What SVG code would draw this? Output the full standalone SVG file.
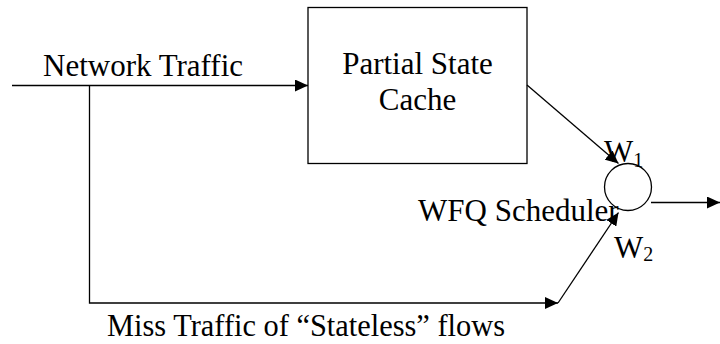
<svg xmlns="http://www.w3.org/2000/svg" width="720" height="344" viewBox="0 0 720 344">
<defs>
<style>
.ln{fill:none;stroke:#000;stroke-width:1.3}
.t{font-family:'Liberation Serif','Times New Roman',serif;font-size:31px;fill:#000}
.sub{font-size:20px}
</style>
<marker id="ah" viewBox="0 0 13 12" refX="13" refY="6" markerWidth="13" markerHeight="12" markerUnits="userSpaceOnUse" orient="auto">
<path d="M0,0 L13,6 L0,12 Z" fill="#000"/>
</marker>
</defs>
<rect width="720" height="344" fill="#fff"/>
<g id="connectors">
<line class="ln" x1="12" y1="85.5" x2="308" y2="85.5" marker-end="url(#ah)"/>
<polyline class="ln" points="89.5,85.5 89.5,303 558,303" marker-end="url(#ah)"/>
<line class="ln" x1="558" y1="303" x2="618.5" y2="212.5" marker-end="url(#ah)"/>
<line class="ln" x1="527" y1="85" x2="618.5" y2="163.5" marker-end="url(#ah)"/>
<line class="ln" x1="651" y1="202.5" x2="720" y2="202.5" marker-end="url(#ah)"/>
</g>
<g id="cache">
<rect class="ln" x="308" y="7.5" width="219" height="156"/>
<text class="t" x="417.5" y="74" text-anchor="middle">Partial State</text>
<text class="t" x="417.5" y="110" text-anchor="middle">Cache</text>
</g>
<g id="scheduler">
<circle class="ln" cx="628" cy="187" r="23.5"/>
<text class="t" x="418" y="220.5">WFQ Scheduler</text>
<text class="t" x="604" y="162">W<tspan class="sub" dy="5">1</tspan></text>
<text class="t" x="614" y="258">W<tspan class="sub" dy="3">2</tspan></text>
</g>
<g id="labels">
<text class="t" x="43" y="76">Network Traffic</text>
<text class="t" x="107" y="336" textLength="398" lengthAdjust="spacingAndGlyphs">Miss Traffic of “Stateless” flows</text>
</g>
</svg>
